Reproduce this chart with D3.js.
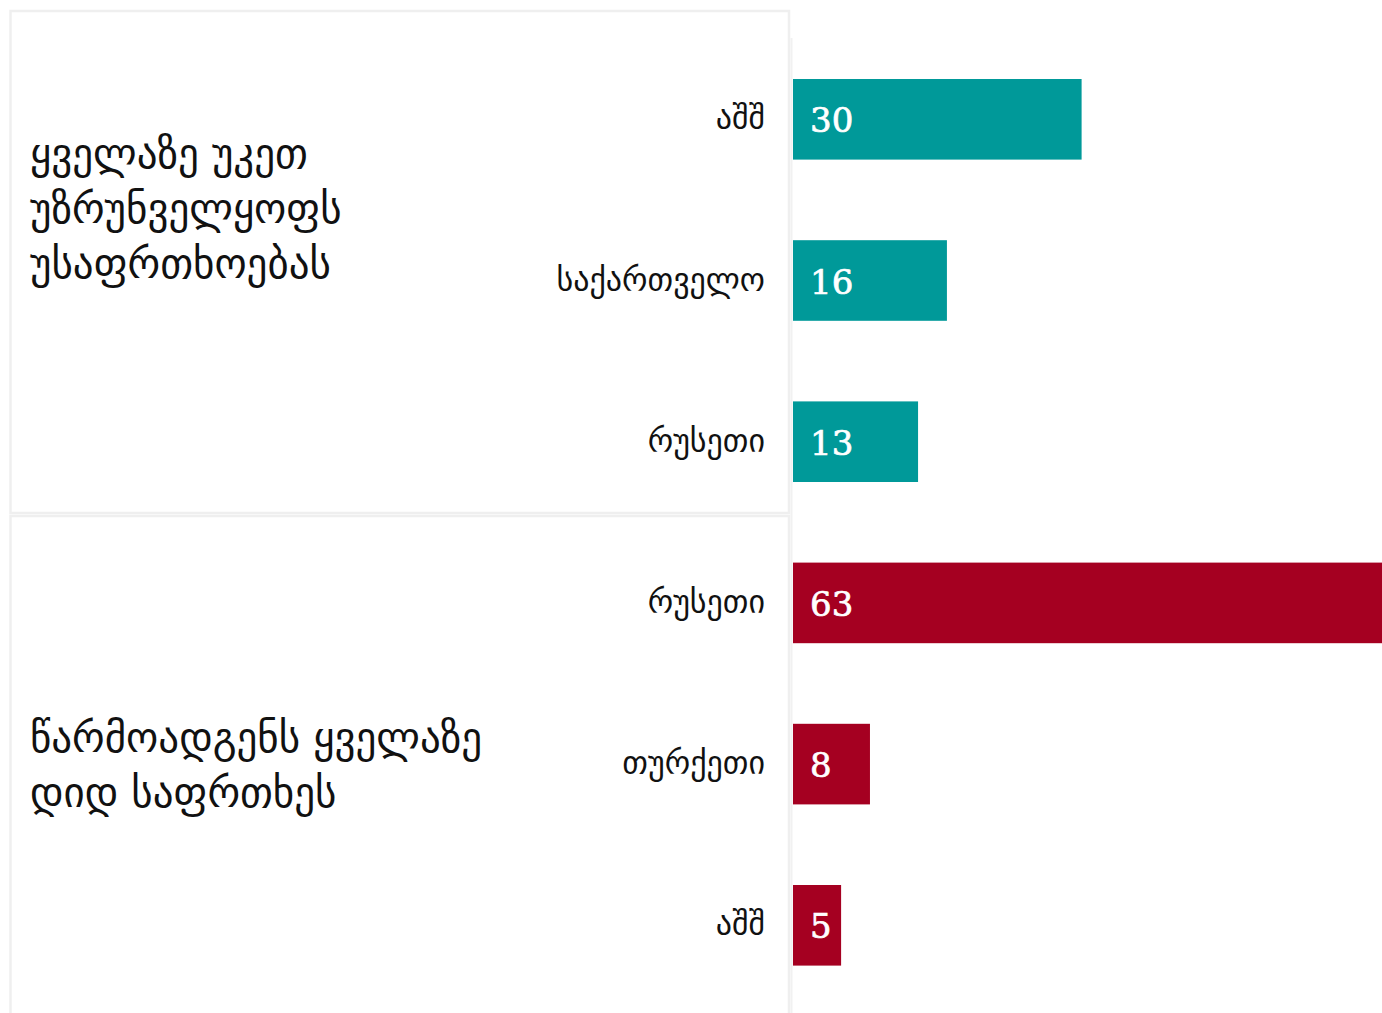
<!DOCTYPE html>
<html>
<head>
<meta charset="utf-8">
<script src="https://cdn.jsdelivr.net/npm/d3@7"></script>
<style>
  body { margin: 0; background: #fff; }
  svg { display: block; }
</style>
</head>
<body>
<div id="container"></div>
<script>
// data
var groupLines = [
	["ყველაზე უკეთ", "უზრუნველყოფს", "უსაფრთხოებას"],
	["წარმოადგენს ყველაზე", "დიდ საფრთხეს"]
];
var countries = ["აშშ", "საქართველო", "რუსეთი", "რუსეთი", "თურქეთი", "აშშ"];
var values = [30, 16, 13, 63, 8, 5];
var groupOf = [0, 0, 0, 1, 1, 1];
var groupColors = ["#009999", "#a50021"];

function load() {

	var width = 1382,
		height = 1013,
		barLeft = 793;

	var svg = d3.select("#container").append("svg")
		.attr("width", width)
		.attr("height", height);

	// scales
	var x = d3.scaleLinear()
		.domain([0, 100])
		.range([0, 962]);

	var y = d3.scaleBand()
		.domain(d3.range(values.length))
		.range([79, 965.6])
		.paddingInner(0.5)
		.paddingOuter(0);

	// panels behind the labels
	var panels = [
		{ y0: 10, y1: 513 },
		{ y0: 515, y1: 1030 }
	];
	svg.selectAll(".panel")
		.data(panels)
	  .enter().append("rect")
		.attr("class", "panel")
		.attr("x", 10.5)
		.attr("y", function(d) { return d.y0 + 1; })
		.attr("width", 778.5)
		.attr("height", function(d) { return d.y1 - d.y0 - 1; })
		.style("fill", "#fff")
		.style("stroke", "#efefef")
		.style("stroke-width", 2.5);

	// separator line next to the bars
	svg.append("line")
		.attr("x1", 791.5).attr("x2", 791.5)
		.attr("y1", 38).attr("y2", height)
		.style("stroke", "#f1f1f1")
		.style("stroke-width", 2);

	// group labels
	var groupTops = [168, 752];
	svg.selectAll(".group")
		.data(groupLines)
	  .enter().append("text")
		.attr("class", "group")
		.attr("y", function(d, i) { return groupTops[i]; })
		.style("font-family", "'DejaVu Sans', sans-serif")
		.style("font-size", "41px")
		.style("fill", "#111")
	  .selectAll("tspan")
		.data(function(d) { return d; })
	  .enter().append("tspan")
		.attr("x", 30)
		.attr("dy", function(d, i) { return i === 0 ? 0 : 55; })
		.text(function(d) { return d; });

	// country labels
	svg.selectAll(".country")
		.data(countries)
	  .enter().append("text")
		.attr("class", "country")
		.attr("x", 765)
		.attr("y", function(d, i) { return y(i) + y.bandwidth() / 2 + 10; })
		.style("text-anchor", "end")
		.style("font-family", "'DejaVu Sans', sans-serif")
		.style("font-size", "32px")
		.style("fill", "#111")
		.text(function(d) { return d; });

	// bars
	svg.selectAll(".bar")
		.data(values)
	  .enter().append("rect")
		.attr("class", "bar")
		.attr("x", barLeft)
		.attr("y", function(d, i) { return y(i); })
		.attr("width", function(d) { return x(d); })
		.attr("height", y.bandwidth())
		.style("fill", function(d, i) { return groupColors[groupOf[i]]; });

	// values inside bars
	svg.selectAll(".value")
		.data(values)
	  .enter().append("text")
		.attr("class", "value")
		.attr("x", barLeft + 17)
		.attr("y", function(d, i) { return y(i) + y.bandwidth() / 2 + 13; })
		.style("font-family", "'DejaVu Serif', serif")
		.style("font-size", "34px")
		.style("fill", "#fff")
		.style("stroke", "#fff")
		.style("stroke-width", 0.7)
		.text(function(d) { return d; });
}
load();
</script>
</body>
</html>
